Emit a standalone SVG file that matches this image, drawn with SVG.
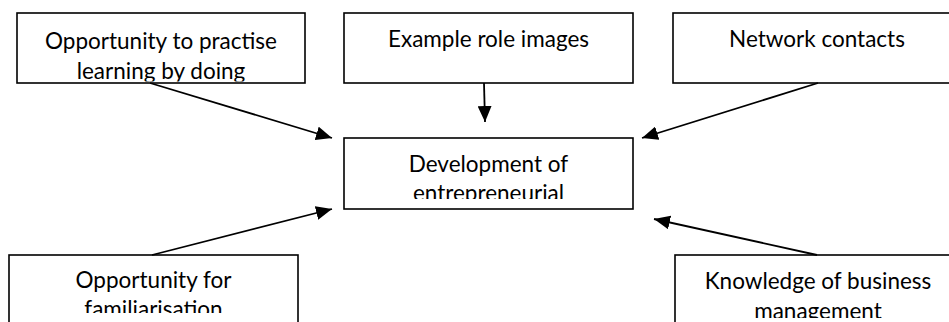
<svg xmlns="http://www.w3.org/2000/svg" width="949" height="322" viewBox="0 0 949 322">
<style>
.box{fill:#fff;stroke:#000;stroke-width:1.6}
.t{font-family:Lato,"Liberation Sans",sans-serif;font-size:22.5px;fill:#000;text-anchor:middle}
.c{stroke:#000;stroke-width:1.8;fill:none}
</style>
<defs>
<marker id="ah" markerUnits="userSpaceOnUse" markerWidth="18" markerHeight="14" refX="16" refY="7" orient="auto">
<path d="M0,0 L16,7 L0,14 Z" fill="#000"/>
</marker>
<clipPath id="c1"><rect x="17" y="13" width="288" height="68.5"/></clipPath>
<clipPath id="c2"><rect x="344" y="138" width="289" height="61"/></clipPath>
<clipPath id="c4"><rect x="9" y="255" width="289" height="58"/></clipPath>
<clipPath id="c5"><rect x="675" y="255" width="290" height="63"/></clipPath>
</defs>
<g id="n1">
<rect class="box" x="17" y="13" width="288" height="70"/>
<g clip-path="url(#c1)">
<text class="t" x="161" y="49">Opportunity to practise</text>
<text class="t" x="161" y="78.5">learning by doing</text>
</g>
</g>
<g id="n2">
<rect class="box" x="344" y="13" width="289" height="70"/>
<text class="t" x="488.5" y="47">Example role images</text>
</g>
<g id="n3">
<rect class="box" x="673" y="13" width="290" height="70"/>
<text class="t" x="817" y="47">Network contacts</text>
</g>
<g id="n0">
<rect class="box" x="344" y="138" width="289" height="71"/>
<g clip-path="url(#c2)">
<text class="t" x="488.5" y="172">Development of</text>
<text class="t" x="488.5" y="201">entrepreneurial</text>
</g>
</g>
<g id="n4">
<rect class="box" x="9" y="255" width="289" height="80"/>
<g clip-path="url(#c4)">
<text class="t" x="153.5" y="287.5">Opportunity for</text>
<text class="t" x="153.5" y="316.5">familiarisation</text>
</g>
</g>
<g id="n5">
<rect class="box" x="675" y="255" width="290" height="80"/>
<g clip-path="url(#c5)">
<text class="t" x="818" y="289">Knowledge of business</text>
<text class="t" x="818" y="318.5">management</text>
</g>
</g>
<g id="connectors">
<line class="c" x1="150" y1="83" x2="332" y2="138" marker-end="url(#ah)"/>
<line class="c" x1="484" y1="83" x2="485" y2="122" marker-end="url(#ah)"/>
<line class="c" x1="818" y1="83" x2="642" y2="138" marker-end="url(#ah)"/>
<line class="c" x1="152" y1="255" x2="332" y2="209" marker-end="url(#ah)"/>
<line class="c" x1="817" y1="255" x2="654" y2="219" marker-end="url(#ah)"/>
</g>
</svg>
